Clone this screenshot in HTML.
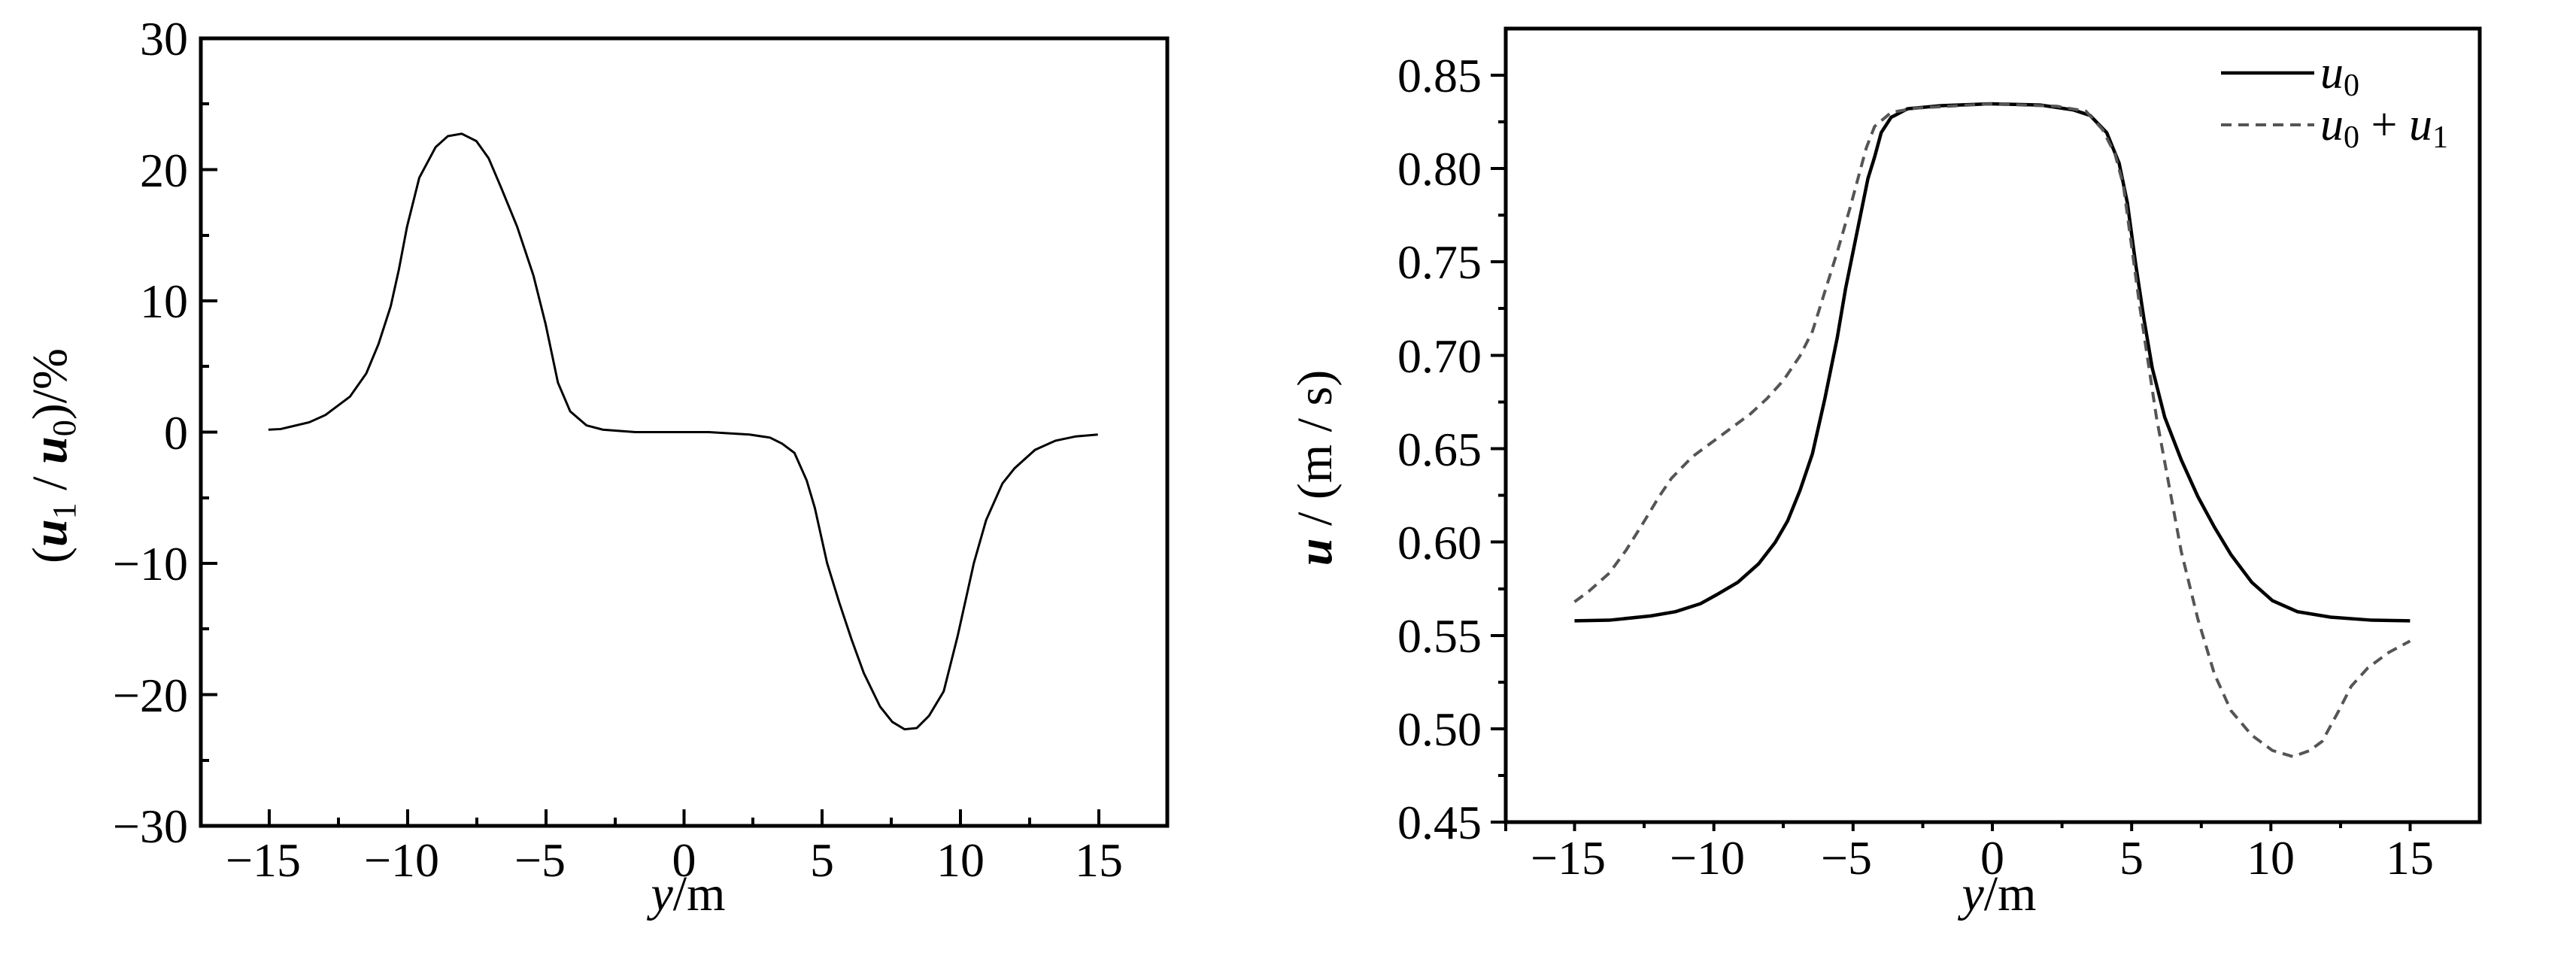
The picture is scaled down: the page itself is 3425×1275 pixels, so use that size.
<!DOCTYPE html>
<html><head><meta charset="utf-8"><style>
html,body{margin:0;padding:0;background:#fff;}
svg{display:block;font-family:"Liberation Serif",serif;}
</style></head><body>
<svg width="3425" height="1275" viewBox="0 0 3425 1275" xmlns="http://www.w3.org/2000/svg">
<!-- LEFT PLOT -->
<rect x="267" y="51" width="1285" height="1047" fill="none" stroke="#000" stroke-width="5"/>
<g stroke="#000" stroke-width="4">
<!-- y major ticks inside: -30..30, px per unit 17.45 ; 0 at 574.5 -->
<line x1="267" y1="225.5" x2="289" y2="225.5"/>
<line x1="267" y1="400" x2="289" y2="400"/>
<line x1="267" y1="574.5" x2="289" y2="574.5"/>
<line x1="267" y1="749" x2="289" y2="749"/>
<line x1="267" y1="923.5" x2="289" y2="923.5"/>
<line x1="267" y1="138" x2="278" y2="138"/>
<line x1="267" y1="313" x2="278" y2="313"/>
<line x1="267" y1="487" x2="278" y2="487"/>
<line x1="267" y1="662" x2="278" y2="662"/>
<line x1="267" y1="836" x2="278" y2="836"/>
<line x1="267" y1="1011" x2="278" y2="1011"/>
<!-- x ticks: -15 at 358, 15 at 1461, 36.77/unit -->
<line x1="358" y1="1098" x2="358" y2="1076"/>
<line x1="542" y1="1098" x2="542" y2="1076"/>
<line x1="726" y1="1098" x2="726" y2="1076"/>
<line x1="909.5" y1="1098" x2="909.5" y2="1076"/>
<line x1="1093" y1="1098" x2="1093" y2="1076"/>
<line x1="1277" y1="1098" x2="1277" y2="1076"/>
<line x1="1461" y1="1098" x2="1461" y2="1076"/>
<line x1="450" y1="1098" x2="450" y2="1087"/>
<line x1="634" y1="1098" x2="634" y2="1087"/>
<line x1="818" y1="1098" x2="818" y2="1087"/>
<line x1="1001" y1="1098" x2="1001" y2="1087"/>
<line x1="1185" y1="1098" x2="1185" y2="1087"/>
<line x1="1369" y1="1098" x2="1369" y2="1087"/>
</g>
<g font-size="64" text-anchor="end" fill="#000">
<text x="250" y="73">30</text>
<text x="250" y="248">20</text>
<text x="250" y="422">10</text>
<text x="250" y="597">0</text>
<text x="250" y="771">−10</text>
<text x="250" y="946">−20</text>
<text x="250" y="1120">−30</text>
</g>
<g font-size="64" text-anchor="middle" fill="#000">
<text x="350" y="1165">−15</text>
<text x="534" y="1165">−10</text>
<text x="718" y="1165">−5</text>
<text x="909.5" y="1165">0</text>
<text x="1093" y="1165">5</text>
<text x="1277" y="1165">10</text>
<text x="1461" y="1165">15</text>
</g>
<text x="915" y="1210" font-size="66" text-anchor="middle"><tspan font-style="italic">y</tspan>/m</text>
<text transform="translate(88,606) rotate(-90)" font-size="66" text-anchor="middle"><tspan>(</tspan><tspan font-style="italic" font-weight="bold">u</tspan><tspan font-size="44" dy="12">1</tspan><tspan dy="-12"> / </tspan><tspan font-style="italic" font-weight="bold">u</tspan><tspan font-size="44" dy="12">0</tspan><tspan dy="-12">)/%</tspan></text>
<g transform="matrix(1.0844,0,0,0.8129,-1,0.6)">
<polyline fill="none" stroke="#000" stroke-width="3" vector-effect="non-scaling-stroke" points="330,702 345,701 380,690 400,678 430,648 450,610 465,562 480,500 490,440 500,370 515,290 535,240 550,222 567,218 585,230 600,258 615,305 635,370 655,450 670,530 685,625 700,672 720,695 740,702 780,706 870,706 920,710 945,715 960,725 975,740 990,785 1000,830 1015,920 1030,985 1045,1045 1060,1100 1080,1155 1095,1180 1110,1192 1125,1190 1140,1170 1158,1130 1175,1040 1195,920 1210,850 1230,790 1245,765 1270,735 1295,720 1320,713 1347,710"/>
</g>

<!-- RIGHT PLOT -->
<rect x="2002" y="38" width="1295" height="1055" fill="none" stroke="#000" stroke-width="5"/>
<g stroke="#000" stroke-width="4">
<!-- y: 0.45 at 1093, 124.1 per 0.05 -->
<line x1="2002" y1="1093" x2="1982" y2="1093"/>
<line x1="2002" y1="969" x2="1982" y2="969"/>
<line x1="2002" y1="845" x2="1982" y2="845"/>
<line x1="2002" y1="720.5" x2="1982" y2="720.5"/>
<line x1="2002" y1="596.5" x2="1982" y2="596.5"/>
<line x1="2002" y1="472.5" x2="1982" y2="472.5"/>
<line x1="2002" y1="348" x2="1982" y2="348"/>
<line x1="2002" y1="224" x2="1982" y2="224"/>
<line x1="2002" y1="100" x2="1982" y2="100"/>
<line x1="2002" y1="1031" x2="1992" y2="1031"/>
<line x1="2002" y1="907" x2="1992" y2="907"/>
<line x1="2002" y1="783" x2="1992" y2="783"/>
<line x1="2002" y1="658.5" x2="1992" y2="658.5"/>
<line x1="2002" y1="534.5" x2="1992" y2="534.5"/>
<line x1="2002" y1="410" x2="1992" y2="410"/>
<line x1="2002" y1="286" x2="1992" y2="286"/>
<line x1="2002" y1="162" x2="1992" y2="162"/>
<line x1="2002" y1="1093" x2="2002" y2="1105"/>
<!-- x: -15 at 2093.5, 15 at 3204.5, 37.03/unit -->
<line x1="2093.5" y1="1093" x2="2093.5" y2="1105"/>
<line x1="2278.7" y1="1093" x2="2278.7" y2="1105"/>
<line x1="2463.8" y1="1093" x2="2463.8" y2="1105"/>
<line x1="2649" y1="1093" x2="2649" y2="1105"/>
<line x1="2834.2" y1="1093" x2="2834.2" y2="1105"/>
<line x1="3019.3" y1="1093" x2="3019.3" y2="1105"/>
<line x1="3204.5" y1="1093" x2="3204.5" y2="1105"/>
<line x1="2186" y1="1093" x2="2186" y2="1101"/>
<line x1="2371" y1="1093" x2="2371" y2="1101"/>
<line x1="2556.5" y1="1093" x2="2556.5" y2="1101"/>
<line x1="2741.6" y1="1093" x2="2741.6" y2="1101"/>
<line x1="2926.8" y1="1093" x2="2926.8" y2="1101"/>
<line x1="3112" y1="1093" x2="3112" y2="1101"/>
</g>
<g font-size="64" text-anchor="end" fill="#000">
<text x="1970" y="1115">0.45</text>
<text x="1970" y="991">0.50</text>
<text x="1970" y="867">0.55</text>
<text x="1970" y="743">0.60</text>
<text x="1970" y="619">0.65</text>
<text x="1970" y="495">0.70</text>
<text x="1970" y="370">0.75</text>
<text x="1970" y="246">0.80</text>
<text x="1970" y="122">0.85</text>
</g>
<g font-size="64" text-anchor="middle" fill="#000">
<text x="2085" y="1162">−15</text>
<text x="2270" y="1162">−10</text>
<text x="2455" y="1162">−5</text>
<text x="2649" y="1162">0</text>
<text x="2834" y="1162">5</text>
<text x="3019" y="1162">10</text>
<text x="3204" y="1162">15</text>
</g>
<text x="2658" y="1210" font-size="66" text-anchor="middle"><tspan font-style="italic">y</tspan>/m</text>
<text transform="translate(1770,622) rotate(-90)" font-size="66" text-anchor="middle"><tspan font-style="italic" font-weight="bold">u</tspan> / (m / s)</text>
<g transform="matrix(1.1021,0,0,0.8134,1698.9,1.4)">
<polyline fill="none" stroke="#000" stroke-width="4.5" vector-effect="non-scaling-stroke" points="358,1013 400,1012 450,1005 480,998 510,985 530,970 555,950 580,920 600,885 615,850 630,800 645,740 660,650 675,550 685,470 700,370 712,290 720,255 728,215 740,190 760,176 800,171 860,168 920,170 960,178 980,187 1000,215 1015,265 1025,330 1035,430 1045,520 1055,600 1070,680 1090,750 1110,810 1130,860 1150,905 1175,950 1200,980 1230,998 1270,1007 1320,1012 1366,1013"/>
<polyline fill="none" stroke="#555" stroke-width="4" stroke-dasharray="14 9" vector-effect="non-scaling-stroke" points="358,982 375,965 400,935 420,898 440,855 460,810 475,780 500,745 520,725 545,700 570,675 590,650 610,620 630,580 645,540 660,475 675,410 690,340 700,290 710,240 720,205 740,182 770,175 860,168 940,172 975,180 995,210 1010,250 1020,300 1030,400 1040,500 1050,590 1060,680 1075,790 1090,900 1110,1010 1130,1100 1150,1160 1175,1200 1200,1225 1225,1235 1245,1225 1260,1210 1280,1160 1295,1120 1315,1090 1340,1065 1366,1046"/>
</g>
<line x1="2953" y1="97" x2="3077" y2="97" stroke="#000" stroke-width="4.5"/>
<line x1="2953" y1="166" x2="3077" y2="166" stroke="#555" stroke-width="4" stroke-dasharray="14 9"/>
<text x="3085" y="117" font-size="62"><tspan font-style="italic">u</tspan><tspan font-size="42" dy="10">0</tspan></text>
<text x="3085" y="186" font-size="62"><tspan font-style="italic">u</tspan><tspan font-size="42" dy="10">0</tspan><tspan dy="-10"> + </tspan><tspan font-style="italic">u</tspan><tspan font-size="42" dy="10">1</tspan></text>
</svg>
</body></html>
